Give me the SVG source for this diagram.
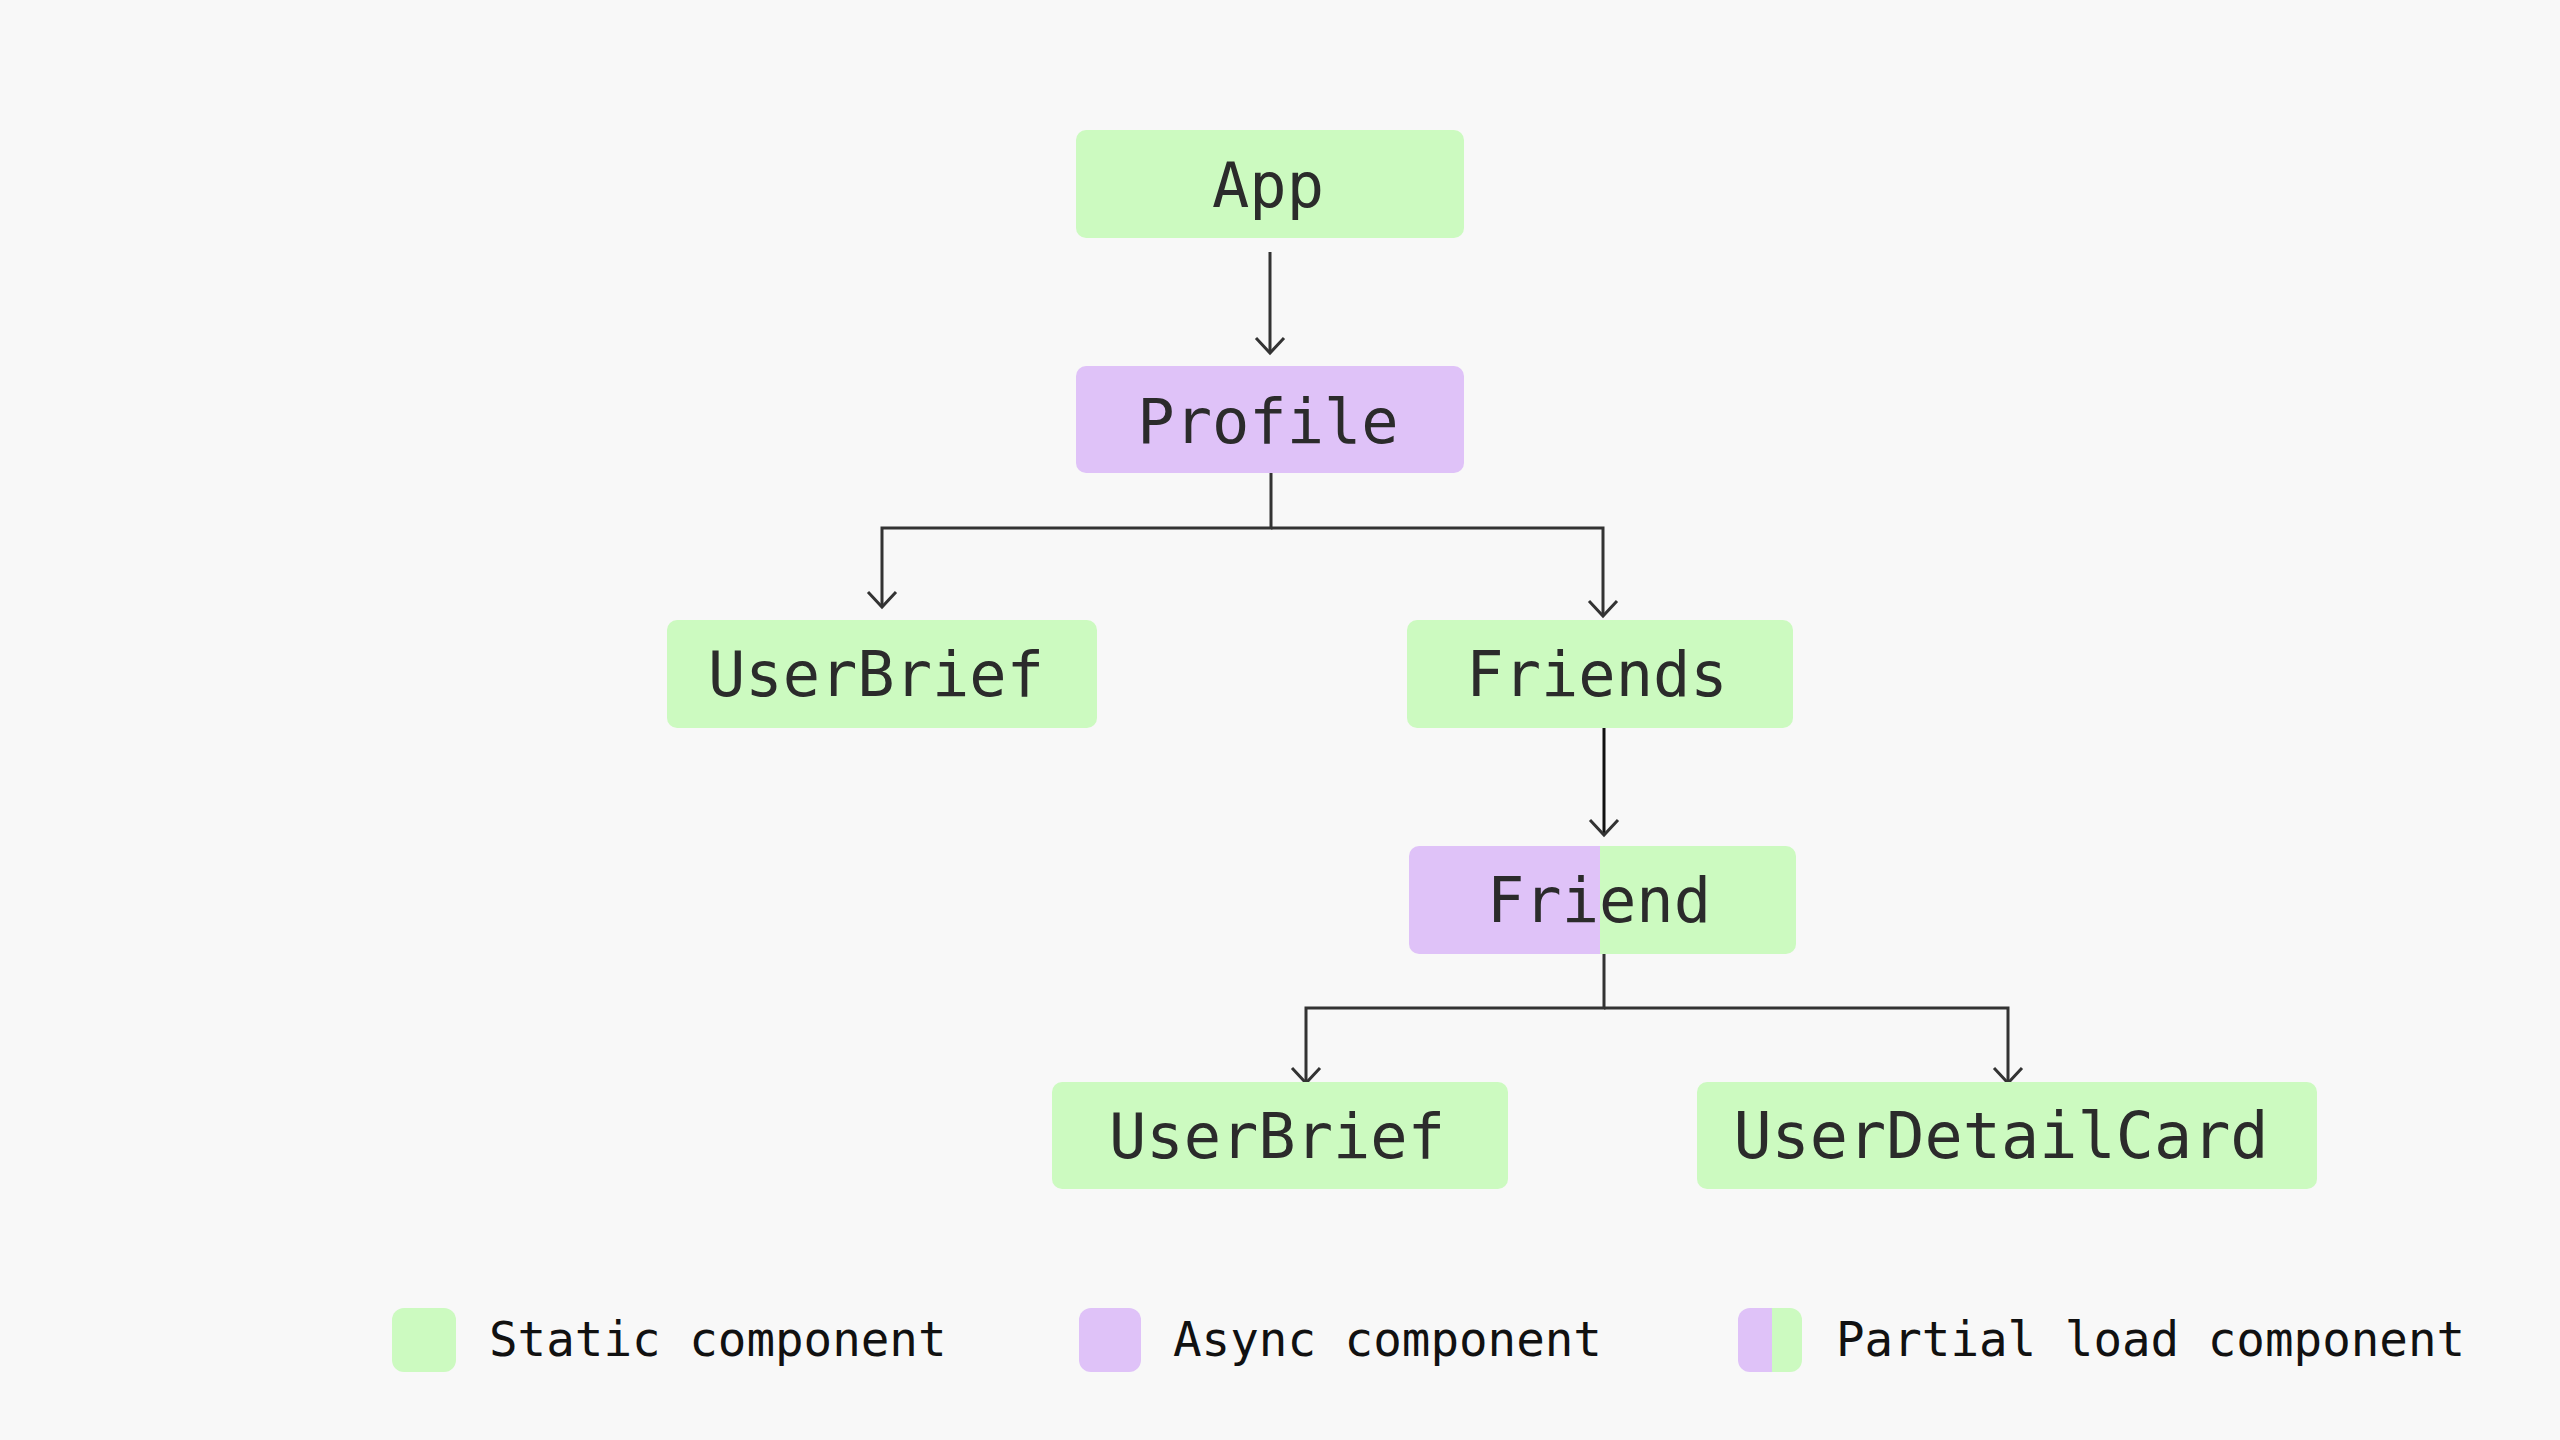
<svg xmlns="http://www.w3.org/2000/svg" width="2560" height="1440" viewBox="0 0 2560 1440">
<style>
.static{fill:#ccfac0}
.async{fill:#dfc2f8}
.lbl{font-family:"DejaVu Sans Mono","Liberation Mono",monospace;font-size:62px;fill:#2b2b2b;text-anchor:middle}
.leg{font-family:"DejaVu Sans Mono","Liberation Mono",monospace;font-size:47.5px;fill:#111}
.conn{fill:none;stroke:#333;stroke-width:3}
</style>
<defs>
<marker id="arr" viewBox="-20 -20 40 40" markerWidth="40" markerHeight="40" markerUnits="userSpaceOnUse" refX="0" refY="0" orient="auto">
<path d="M-15,-14 L0,0 L-15,14" fill="none" stroke="#333" stroke-width="3"/>
</marker>
<clipPath id="friendClip"><rect x="1409" y="846" width="387" height="108" rx="10"/></clipPath>
<clipPath id="legClip"><rect x="1738" y="1308" width="64" height="64" rx="12"/></clipPath>
</defs>
<rect width="2560" height="1440" fill="#f8f8f8"/>
<g id="connectors">
<path class="conn" d="M1270,252 V353" marker-end="url(#arr)"/>
<path class="conn" d="M1271,473 V528 H882 V607" marker-end="url(#arr)"/>
<path class="conn" d="M1271,528 H1603 V616" marker-end="url(#arr)"/>
<path class="conn" d="M1604,728 V835" marker-end="url(#arr)" style="stroke:#111"/>
<path class="conn" d="M1604,954 V1008 H1306 V1083" marker-end="url(#arr)"/>
<path class="conn" d="M1604,1008 H2008 V1083" marker-end="url(#arr)"/>
</g>
<g id="app">
<rect class="static" x="1076" y="130" width="388" height="108" rx="10"/>
<text class="lbl" x="1268" y="207">App</text>
</g>
<g id="profile">
<rect class="async" x="1076" y="366" width="388" height="107" rx="10"/>
<text class="lbl" x="1268" y="443">Profile</text>
</g>
<g id="userbrief1">
<rect class="static" x="667" y="620" width="430" height="108" rx="10"/>
<text class="lbl" x="876" y="696">UserBrief</text>
</g>
<g id="friends">
<rect class="static" x="1407" y="620" width="386" height="108" rx="10"/>
<text class="lbl" x="1597" y="696">Friends</text>
</g>
<g id="friend">
<g clip-path="url(#friendClip)">
<rect class="async" x="1409" y="846" width="191" height="108"/>
<rect class="static" x="1600" y="846" width="196" height="108"/>
</g>
<text class="lbl" x="1599" y="922">Friend</text>
</g>
<g id="userbrief2">
<rect class="static" x="1052" y="1082" width="456" height="107" rx="10"/>
<text class="lbl" x="1277" y="1158">UserBrief</text>
</g>
<g id="userdetailcard">
<rect class="static" x="1697" y="1082" width="620" height="107" rx="10"/>
<text class="lbl" x="2001" y="1158" style="font-size:63.5px">UserDetailCard</text>
</g>
<g id="legend">
<rect class="static" x="392" y="1308" width="64" height="64" rx="12"/>
<text class="leg" x="489" y="1356">Static component</text>
<rect class="async" x="1079" y="1308" width="62" height="64" rx="12"/>
<text class="leg" x="1173" y="1356">Async component</text>
<g clip-path="url(#legClip)">
<rect class="async" x="1738" y="1308" width="34" height="64"/>
<rect class="static" x="1772" y="1308" width="30" height="64"/>
</g>
<text class="leg" x="1836" y="1356">Partial load component</text>
</g>
</svg>
